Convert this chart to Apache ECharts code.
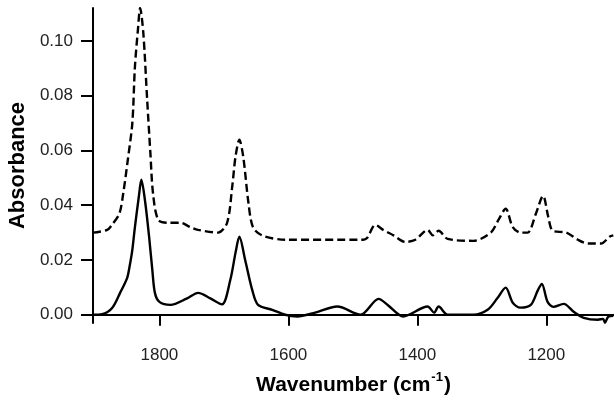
<!DOCTYPE html>
<html>
<head>
<meta charset="utf-8">
<script src="https://cdn.jsdelivr.net/npm/echarts@6/dist/echarts.min.js"></script>
<style>html,body{margin:0;padding:0;background:#fff}#c{width:614px;height:401px}</style>
</head>
<body>
<div id="c"></div>
<script>
// Solid spectrum: [wavenumber, absorbance]
const solidWn = [1903,1889,1873,1861,1850,1846,1842,1838,1832,1828,1822,1816,1811,1807,1800,1783,1757,1740,1721,1703,1690,1682,1676,1667,1656,1647,1625,1605,1586,1561,1524,1488,1460,1446,1422,1384,1374,1367,1353,1313,1291,1276,1263,1252,1240,1224,1213,1207,1198,1189,1173,1157,1142,1120,1112,1109,1104,1096];
const solidAbs = [0.000,0.0002,0.0026,0.008,0.0135,0.018,0.0237,0.032,0.043,0.0493,0.041,0.0285,0.0164,0.008,0.0047,0.0036,0.006,0.008,0.006,0.0038,0.0128,0.0226,0.0285,0.020,0.009,0.0036,0.0018,0.0,-0.0006,0.0006,0.003,0.0,0.0058,0.0036,-0.0006,0.003,0.0008,0.003,0.0,0.0,0.0018,0.006,0.0099,0.0044,0.0026,0.0036,0.009,0.0113,0.0047,0.0029,0.004,0.001,-0.0011,-0.0018,-0.0015,-0.0029,-0.0007,-0.0004];
// Dashed spectrum
const dashWn = [1903,1881,1873,1862,1856,1849,1842,1838,1833,1830,1825,1819,1814,1810,1802,1788,1768,1752,1740,1709,1695,1687,1682,1676,1670,1662,1655,1641,1605,1484,1478,1465,1453,1437,1419,1403,1384,1376,1367,1353,1313,1286,1274,1263,1252,1240,1229,1216,1205,1197,1190,1169,1151,1135,1115,1102,1096];
const dashAbs = [0.030,0.031,0.033,0.037,0.0445,0.0566,0.070,0.0905,0.105,0.112,0.103,0.0785,0.059,0.0445,0.0347,0.0336,0.0336,0.032,0.031,0.030,0.0336,0.047,0.0577,0.0639,0.0577,0.041,0.032,0.029,0.0274,0.0274,0.028,0.0328,0.031,0.029,0.0266,0.0274,0.031,0.029,0.0307,0.0277,0.027,0.030,0.0347,0.0387,0.032,0.030,0.030,0.037,0.0434,0.0358,0.0307,0.030,0.0274,0.026,0.026,0.0285,0.029];
const xTicks = [1200,1400,1600,1800];
const yTicks = [0,0.02,0.04,0.06,0.08,0.10];

const pair = (a,b) => a.map((v,i)=>[v,b[i]]);
const chart = echarts.init(document.getElementById('c'), null, {renderer:'canvas'});
const FF = 'Liberation Sans, Arial, sans-serif';
const lab = {fontFamily:FF, fontSize:17, color:'#222'};
chart.setOption({
  animation:false,
  grid:{left:93, right:0, top:8, bottom:78, outerBoundsMode:'none', containLabel:false},
  xAxis:{
    type:'value', min:1095, max:1903, inverse:true,
    axisLine:{lineStyle:{color:'#000', width:2}},
    axisTick:{show:true, length:11, lineStyle:{color:'#000', width:2}, customValues:xTicks},
    axisLabel:Object.assign({margin:24, customValues:xTicks, formatter:v=>String(v)}, lab),
    splitLine:{show:false},
    name:'{a|Wavenumber (cm}{s|-1}{a|)}', nameLocation:'middle', nameGap:48,
    nameTextStyle:{rich:{
      a:{fontFamily:FF, fontSize:21, fontWeight:'bold', color:'#000', verticalAlign:'bottom'},
      s:{fontFamily:FF, fontSize:13, fontWeight:'bold', color:'#000', verticalAlign:'top', padding:[0,1,12,1]}
    }}
  },
  yAxis:{
    type:'value', min:-0.003, max:0.112,
    axisLine:{show:true, lineStyle:{color:'#000', width:2}},
    axisTick:{show:true, length:12, lineStyle:{color:'#000', width:2}, customValues:yTicks},
    axisLabel:Object.assign({margin:20, customValues:yTicks, formatter:v=>v.toFixed(2)}, lab),
    splitLine:{show:false},
    name:'Absorbance', nameLocation:'middle', nameGap:62, nameRotate:90,
    nameTextStyle:{fontFamily:FF, fontSize:22, fontWeight:'bold', color:'#000'}
  },
  series:[
    {type:'line', data:pair(dashWn,dashAbs), showSymbol:false, smooth:0.3, lineStyle:{color:'#000', width:2.4, type:[8,4]}},
    {type:'line', data:pair(solidWn,solidAbs), showSymbol:false, smooth:0.3, lineStyle:{color:'#000', width:2.4}}
  ]
});
</script>
</body>
</html>
